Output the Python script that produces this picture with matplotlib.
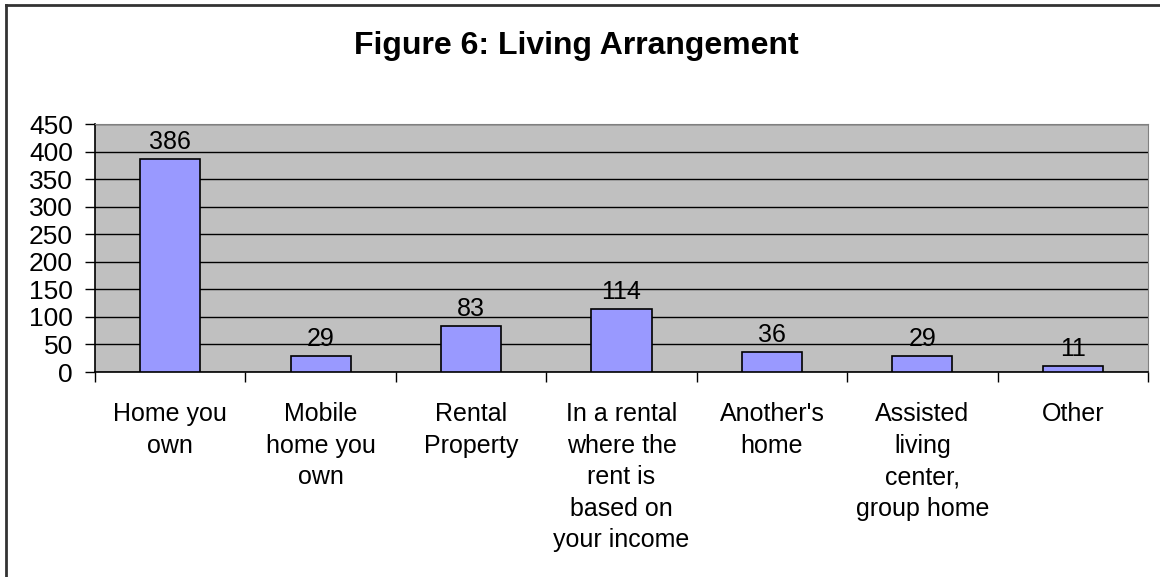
import matplotlib.pyplot as plt
from matplotlib.lines import Line2D

plt.rcParams['font.family'] = ['Liberation Sans', 'DejaVu Sans']

categories = ['Home you\nown', 'Mobile\nhome you\nown', 'Rental\nProperty',
              'In a rental\nwhere the\nrent is\nbased on\nyour income',
              "Another's\nhome", 'Assisted\nliving\ncenter,\ngroup home', 'Other']
counts = [386, 29, 83, 114, 36, 29, 11]
yticks = list(range(0, 451, 50))

W, H = 1160, 577
fig = plt.figure(figsize=(W / 100, H / 100), dpi=100)

# outer chart border (only top and left visible in the original crop)
fig.add_artist(Line2D([6 / W, 6 / W], [0, 1 - 5 / H], color='#333333', lw=2))
fig.add_artist(Line2D([6 / W, 1], [1 - 5 / H, 1 - 5 / H], color='#333333', lw=2))

ax = fig.add_axes([95 / W, 1 - 372 / H, (1148 - 95) / W, (372 - 124) / H])
ax.set_facecolor('#C0C0C0')

x = list(range(len(counts)))
ax.bar(x, counts, width=0.4, color='#9999FF', edgecolor='black', lw=1.2, zorder=3)
for xi, v in zip(x, counts):
    ax.annotate(str(v), (xi, v), xytext=(0, 5), textcoords='offset pixels',
                ha='center', va='bottom', fontsize=18)

ax.set_xlim(-0.5, len(counts) - 0.5)
ax.set_ylim(0, 450)
ax.set_yticks(yticks)
ax.yaxis.grid(True, color='black', lw=1, zorder=0)
ax.tick_params(axis='y', labelsize=19, length=7, width=1, pad=9, direction='out')

# category labels between boundary ticks
ax.set_xticks([i - 0.5 for i in range(len(counts) + 1)])
ax.set_xticklabels([])
ax.tick_params(axis='x', length=7, width=1, direction='out')
for xi, lab in zip(x, categories):
    ax.annotate(lab, (xi, 0), xytext=(0, -30), textcoords='offset pixels',
                ha='center', va='top', fontsize=18, linespacing=1.4)

for side in ['top', 'right']:
    ax.spines[side].set_color('#808080')
for side in ['left', 'bottom']:
    ax.spines[side].set_color('black')
    ax.spines[side].set_linewidth(1.2)

fig.text(576 / W, 1 - 46 / H, 'Figure 6: Living Arrangement', ha='center', va='center',
         fontsize=23, fontweight='bold')

fig.savefig('out.png', dpi=100)
